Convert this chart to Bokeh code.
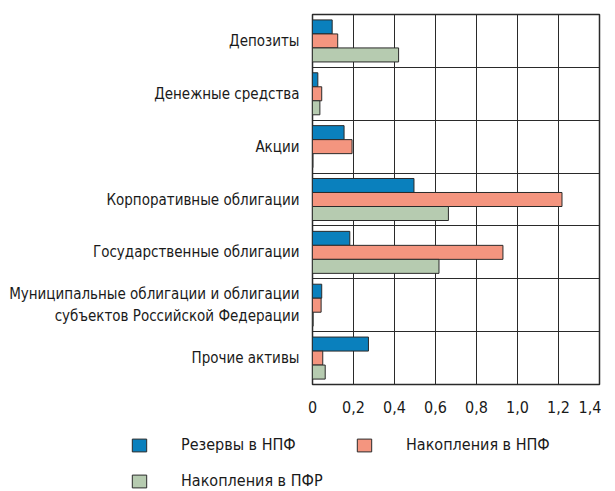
from bokeh.plotting import figure
from bokeh.models import ColumnDataSource, FixedTicker, Legend, LegendItem
from bokeh.transform import dodge
from bokeh.embed import file_html
from bokeh.resources import INLINE

categories = [
    "Депозиты",
    "Денежные средства",
    "Акции",
    "Корпоративные облигации",
    "Государственные облигации",
    "Муниципальные облигации и облигации\nсубъектов Российской Федерации",
    "Прочие активы",
]
reserves_npf = [0.096, 0.026, 0.154, 0.495, 0.182, 0.045, 0.273]
savings_npf = [0.123, 0.045, 0.193, 1.217, 0.929, 0.042, 0.050]
savings_pfr = [0.420, 0.036, 0.002, 0.663, 0.617, 0.003, 0.062]
x_ticks = [0, 0.2, 0.4, 0.6, 0.8, 1.0, 1.2, 1.4]
x_tick_labels = ["0", "0,2", "0,4", "0,6", "0,8", "1,0", "1,2", "1,4"]
series_names = ["Резервы в НПФ", "Накопления в НПФ", "Накопления в ПФР"]
colors = ["#0a80bd", "#f4957f", "#b6cbb0"]

FONT = "DejaVu Sans Condensed"
EDGE = "#2a2a2a"
pos = list(range(len(categories)))
src = ColumnDataSource(dict(pos=pos, r=reserves_npf, s=savings_npf, p=savings_pfr))

p = figure(frame_width=287, frame_height=370, x_range=(0, 1.4), y_range=(6.5, -0.5),
           output_backend="svg", toolbar_location=None,
           min_border_left=312, min_border_right=2, min_border_top=14, min_border_bottom=30)

bh = 0.265
value_cols = ["r", "s", "p"]
offsets = [-0.265, 0.0, 0.265]
for col, off, c in zip(value_cols, offsets, colors):
    p.hbar(y=dodge("pos", off), right=col, left=0, height=bh, source=src,
           fill_color=c, line_color=EDGE, line_width=1)

p.xaxis.ticker = FixedTicker(ticks=x_ticks)
p.xaxis.major_label_overrides = {t: l for t, l in zip(x_ticks, x_tick_labels)}
p.yaxis.ticker = FixedTicker(ticks=pos)
p.yaxis.major_label_overrides = {i: c for i, c in zip(pos, categories)}

for ax in (p.xaxis, p.yaxis):
    ax.axis_line_color = None
    ax.major_tick_line_color = None
    ax.minor_tick_line_color = None
    ax.major_label_text_font = FONT
    ax.major_label_text_color = "#1a1a1a"
p.yaxis.major_label_text_font_size = "15px"
p.xaxis.major_label_text_font_size = "16px"
p.yaxis.major_label_standoff = 7
p.xaxis.major_label_standoff = 10

p.xgrid.ticker = FixedTicker(ticks=x_ticks)
p.xgrid.grid_line_color = EDGE
p.xgrid.grid_line_width = 1
p.ygrid.ticker = FixedTicker(ticks=[0.5, 1.5, 2.5, 3.5, 4.5, 5.5])
p.ygrid.grid_line_color = EDGE
p.ygrid.grid_line_width = 1
p.outline_line_color = EDGE
p.outline_line_width = 1.5

# separate legend canvas (its bars lie outside its visible range; only the legend shows)
lp = figure(width=599, height=75, x_range=(0, 1), y_range=(100, 101),
            output_backend="svg", toolbar_location=None,
            min_border_left=0, min_border_right=0, min_border_top=0, min_border_bottom=0)
lp.axis.visible = False
lp.grid.visible = False
lp.outline_line_color = None
rends = []
for col, c in zip(value_cols, colors):
    rends.append(lp.hbar(y="pos", right=col, left=0, height=bh, source=src,
                         fill_color=c, line_color=EDGE, line_width=1))

leg = Legend(items=[LegendItem(label=n, renderers=[r]) for n, r in zip(series_names, rends)],
             location=(130, 0), orientation="horizontal", ncols=2,
             glyph_width=18, glyph_height=16, label_standoff=33, spacing=17,
             label_width=157,
             padding=0, margin=0, border_line_color=None, background_fill_alpha=0,
             label_text_font=FONT, label_text_font_size="16px", label_text_color="#1a1a1a",
             label_height=16)
lp.add_layout(leg, "center")

open("out.html", "w").write(file_html([p, lp], INLINE))
